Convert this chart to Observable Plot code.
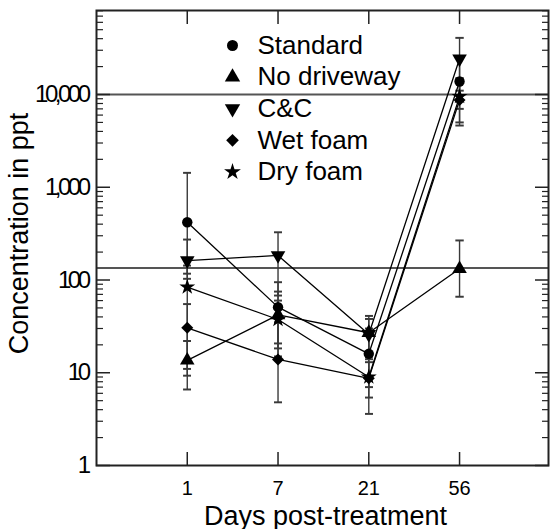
<!DOCTYPE html>
<html>
<head>
<meta charset="utf-8">
<script src="https://cdn.jsdelivr.net/npm/d3@7"></script>
<script src="https://cdn.jsdelivr.net/npm/@observablehq/plot@0.6"></script>
<style>
  html, body { margin: 0; padding: 0; background: #fff; }
  g[aria-label="y-axis tick label"] text { letter-spacing: -3.5px; }
</style>
</head>
<body>
<div id="chart"></div>
<script>
// ---- data ----
const days = ["1", "7", "21", "56"];
const seriesNames = ["Standard", "No driveway", "C&C", "Wet foam", "Dry foam"];
const standard   = [420, 51, 16, 13800];
const noDriveway = [13.6, 42, 27, 132];
const cc         = [162, 184, 26, 24300];
const wetFoam    = [30.5, 13.9, 8.7, 8700];
const dryFoam    = [84, 37.5, 9, 9500];
const standardLo   = [117, 20.7, 7, 7000];
const standardHi   = [1430, 94.7, 30, 25000];
const noDrivewayLo = [6.6, 18.3, 14, 66];
const noDrivewayHi = [22, 75, 38, 267];
const ccLo         = [103, 68, 15, 11000];
const ccHi         = [273, 327, 41, 40800];
const wetFoamLo    = [9.3, 4.8, 3.6, 4630];
const wetFoamHi    = [55, 35, 13, 14000];
const dryFoamLo    = [11, 15, 5.4, 5000];
const dryFoamHi    = [143, 60, 15, 15000];
const refLines = [10000, 135];
const yMajor = [1, 10, 100, 1000, 10000];
const yMinor = [2,3,4,5,6,7,8,9, 20,30,40,50,60,70,80,90, 200,300,400,500,600,700,800,900,
                2000,3000,4000,5000,6000,7000,8000,9000, 20000,30000,40000,50000,60000,70000,80000];
const xTicks = [1, 2, 3, 4];
const yTitle = "Concentration in ppt";
const xTitle = "Days post-treatment";

// ---- build table ----
const values = [standard, noDriveway, cc, wetFoam, dryFoam];
const lows = [standardLo, noDrivewayLo, ccLo, wetFoamLo, dryFoamLo];
const highs = [standardHi, noDrivewayHi, ccHi, wetFoamHi, dryFoamHi];
const rows = [];
seriesNames.forEach((s, i) => {
  days.forEach((d, j) => {
    rows.push({series: s, x: j + 1, y: values[i][j], lo: lows[i][j], hi: highs[i][j]});
  });
});

const sqrt3 = Math.sqrt(3);
const triangleDown = {
  draw(context, size) {
    const y = -Math.sqrt(size / (sqrt3 * 3));
    context.moveTo(0, -y * 2);
    context.lineTo(-sqrt3 * y, y);
    context.lineTo(sqrt3 * y, y);
    context.closePath();
  }
};
const symbols = ["circle", "triangle", triangleDown, "diamond2", "star"];
const radii = [5.2, 5.4, 5.4, 5.4, 5.0];

const font = "'Liberation Sans', Arial, Helvetica, sans-serif";

const marks = [
  Plot.ruleY(refLines, {stroke: "#555", strokeWidth: 2}),
  Plot.link(rows, {x1: "x", x2: "x", y1: "lo", y2: "hi", stroke: "#3a3a3a", strokeWidth: 1.4,
                   markerStart: "tick", markerEnd: "tick"}),
  Plot.line(rows, {x: "x", y: "y", z: "series", stroke: "#000", strokeWidth: 1.3})
];
seriesNames.forEach((s, i) => {
  marks.push(Plot.dot(rows.filter(r => r.series === s),
    {x: "x", y: "y", symbol: symbols[i], r: radii[i], fill: "#000", stroke: "none"}));
  marks.push(Plot.dot([s], {frameAnchor: "top-left", dx: 136, dy: 35 + 31.6 * i,
    symbol: symbols[i], r: radii[i] + 0.3, fill: "#000", stroke: "none"}));
  marks.push(Plot.text([s], {frameAnchor: "top-left", dx: 161, dy: 35 + 31.6 * i,
    text: d => d, textAnchor: "start", lineAnchor: "middle", fontSize: 26, fill: "#000"}));
});
marks.push(
  Plot.frame({stroke: "#222", strokeWidth: 2}),
  // y axis labels
  Plot.axisY(yMajor, {anchor: "left", label: null, tickSize: 0, tickPadding: 9, fontSize: 24,
    tickFormat: d => d3.format(",")(d), fill: "#000"}),
  // inward ticks, left and right
  Plot.axisY(yMajor, {anchor: "left", label: null, tickSize: -14, tickFormat: () => "", strokeWidth: 1.5, stroke: "#222"}),
  Plot.axisY(yMinor, {anchor: "left", label: null, tickSize: -7, tickFormat: () => "", strokeWidth: 1.2, stroke: "#222"}),
  Plot.axisY(yMajor, {anchor: "right", label: null, tickSize: -14, tickFormat: () => "", strokeWidth: 1.5, stroke: "#222"}),
  Plot.axisY(yMinor, {anchor: "right", label: null, tickSize: -7, tickFormat: () => "", strokeWidth: 1.2, stroke: "#222"}),
  // x axis
  Plot.axisX(xTicks, {anchor: "bottom", label: null, tickSize: 0, tickPadding: 15, fontSize: 20,
    tickFormat: d => days[d - 1], fill: "#000"}),
  Plot.axisX(xTicks, {anchor: "bottom", label: null, tickSize: -13, tickFormat: () => "", strokeWidth: 1.5, stroke: "#222"}),
  Plot.axisX(xTicks, {anchor: "top", label: null, tickSize: -13, tickFormat: () => "", strokeWidth: 1.5, stroke: "#222"}),
  // titles
  Plot.text([yTitle], {frameAnchor: "left", text: d => d, rotate: -90, dx: -77, dy: -4.5,
    textAnchor: "middle", lineAnchor: "middle", fontSize: 27, fill: "#000"}),
  Plot.text([xTitle], {frameAnchor: "bottom", text: d => d, dx: 3, dy: 51,
    textAnchor: "middle", lineAnchor: "middle", fontSize: 27, fill: "#000"})
);

const chart = Plot.plot({
  width: 550,
  height: 529,
  marginLeft: 96,
  marginRight: 2,
  marginTop: 10,
  marginBottom: 64,
  style: {fontFamily: font, background: "#fff", color: "#000", overflow: "visible"},
  x: {domain: [0, 4.98], axis: null},
  y: {type: "log", domain: [1, 80500], axis: null},
  marks
});
document.getElementById("chart").appendChild(chart);
</script>
</body>
</html>
